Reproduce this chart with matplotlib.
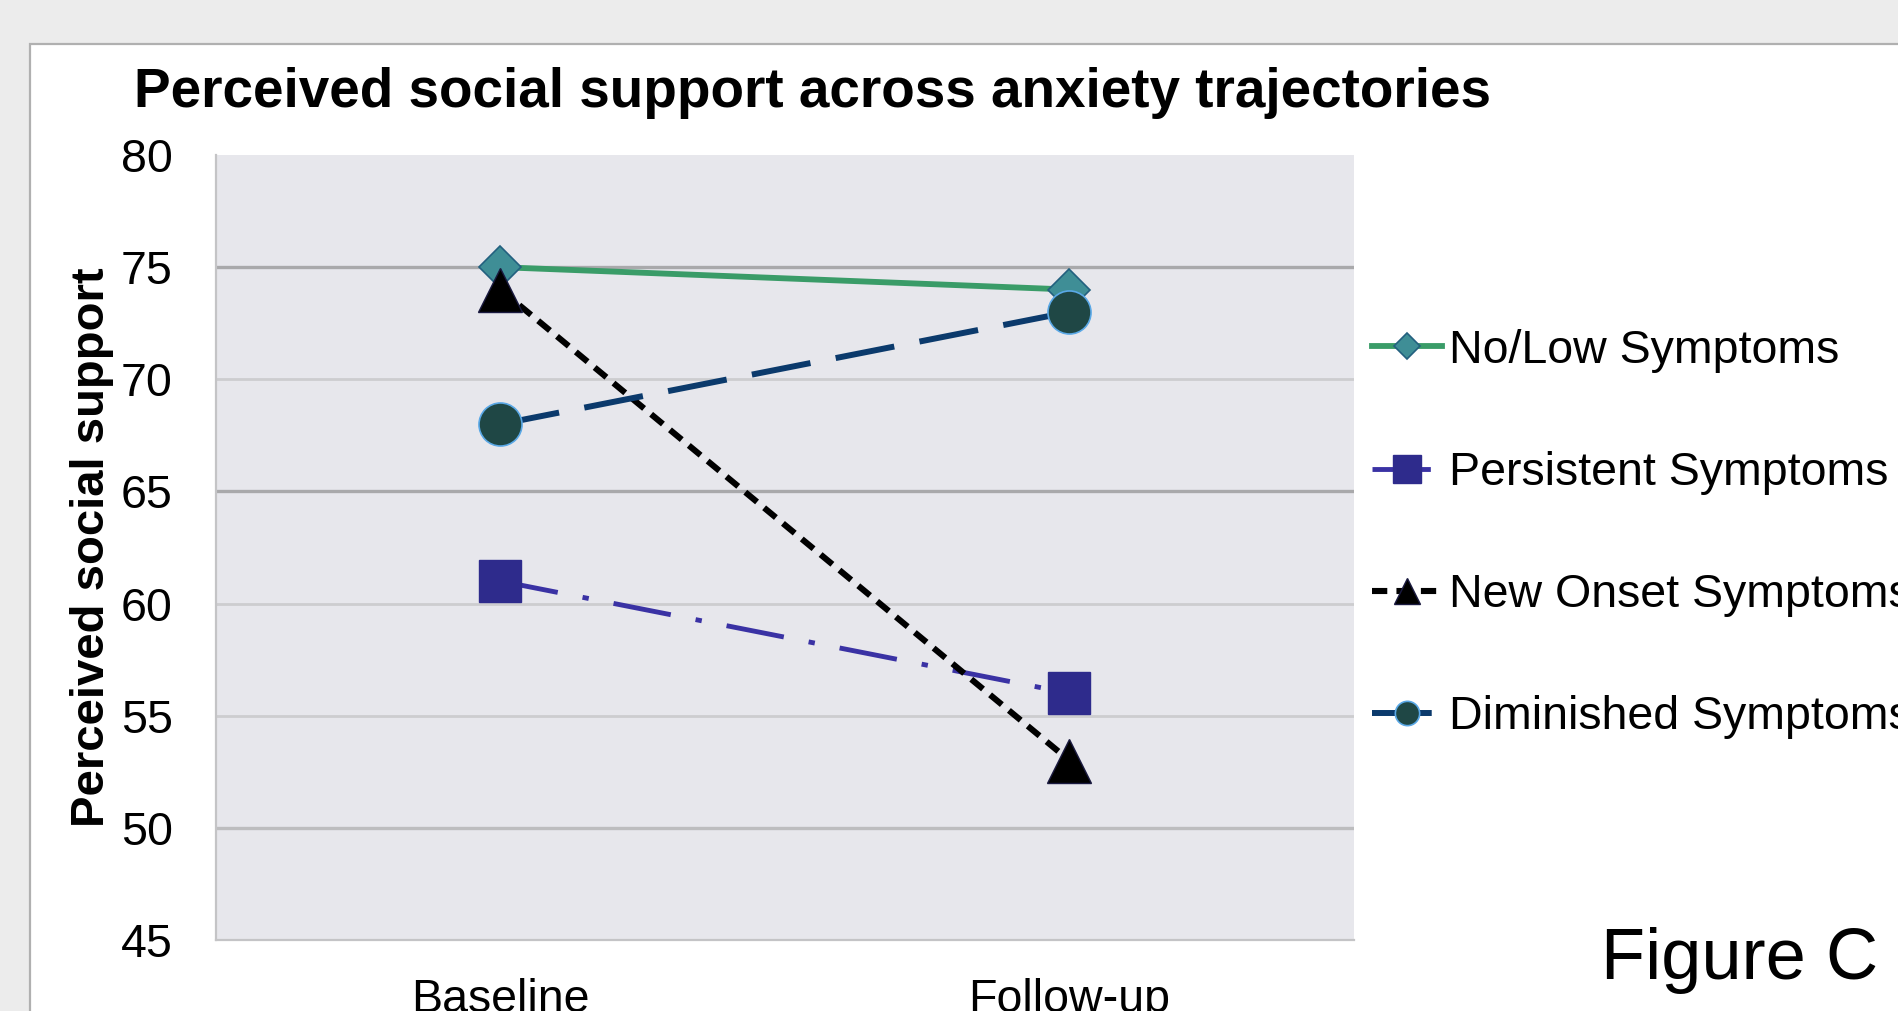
import numpy as np
import matplotlib.pyplot as plt
from matplotlib.lines import Line2D
from matplotlib.patches import Rectangle

# --- data ---
time_points = ['Baseline', 'Follow-up']
groups = ['No/Low Symptoms', 'Persistent Symptoms', 'New Onset Symptoms', 'Diminished Symptoms']
no_low = [75, 74]
persistent = [61, 56]
new_onset = [74, 53]
diminished = [68, 73]
y_ticks = [45, 50, 55, 60, 65, 70, 75, 80]

plt.rcParams['font.family'] = ['Liberation Sans', 'DejaVu Sans']

W, H = 1899, 1011
fig = plt.figure(figsize=(W / 100, H / 100), dpi=100, facecolor='#ececec')

# white sheet behind the chart
fig.patches.append(Rectangle((30 / W, -0.05), 1.2, 1.05 - 44 / H, transform=fig.transFigure,
                             facecolor='white', edgecolor='#b0b0b0', linewidth=1.6, zorder=-10))

ax = fig.add_axes([216 / W, 71 / H, 1138 / W, 785 / H], facecolor='#e7e7ec')

x = np.arange(len(time_points))

# series styles: (values, line colour, linestyle, lw, marker, ms, face, edge, edge width)
styles = [
    (no_low, '#3a9c68', '-', 4.2, 'D', 21, '#3f8e96', '#23607f', 1.2),
    (persistent, '#3a32a4', (0, (12, 5.2, 1.3, 5.2)), 3.5, 's', 30, '#2e2b8c', '#2e2b8c', 1.0),
    (new_onset, '#000000', (0, (2.5, 1.5)), 4.4, '^', 31, '#000000', '#1a1a40', 1.0),
    (diminished, '#0b3a6c', (0, (10, 4.3)), 4.3, 'o', 31, '#1f4745', '#5aa8e6', 1.2),
]

handles = []
legend_ms = [13, 20, 19, 17.5]
for (vals, col, ls, lw, mk, ms, fc, ec, mew), name, lms in zip(styles, groups, legend_ms):
    ax.plot(x, vals, color=col, linestyle=ls, linewidth=lw, marker=mk, markersize=ms,
            markerfacecolor=fc, markeredgecolor=ec, markeredgewidth=mew, zorder=3)
    handles.append(Line2D([], [], color=col, linestyle=ls, linewidth=lw, marker=mk, markersize=lms,
                          markerfacecolor=fc, markeredgecolor=ec, markeredgewidth=mew))

ax.set_xlim(-0.5, 1.5)
ax.set_ylim(45, 80)
ax.set_xticks(x)
ax.set_xticklabels(time_points)
ax.set_yticks(y_ticks)
ax.tick_params(axis='both', length=0, labelsize=33.5)
ax.tick_params(axis='y', pad=31)
ax.tick_params(axis='x', pad=27)

# horizontal gridlines; none drawn along the top edge
ax.yaxis.grid(True, color='#cdcdcf', linewidth=2.0)
ax.set_axisbelow(True)
grid_shade = {75: '#a9a9ab', 65: '#a9a9ab', 50: '#bdbdbf'}
for val, gl in zip(y_ticks, ax.get_ygridlines()):
    if val == 80:
        gl.set_visible(False)
    elif val in grid_shade:
        gl.set_color(grid_shade[val])
        gl.set_linewidth(2.4)

for side in ['top', 'right']:
    ax.spines[side].set_visible(False)
for side in ['left', 'bottom']:
    ax.spines[side].set_color('#c4c4c6')
    ax.spines[side].set_linewidth(1.6)

ax.set_ylabel('Perceived social support', fontsize=34, fontweight='bold', va='center')
ax.yaxis.set_label_coords((92 - 216) / 1138, 0.5)

fig.text(134 / W, 1 - 107 / H, 'Perceived social support across anxiety trajectories',
         fontsize=39.5, fontweight='bold', va='baseline', ha='left')

fig.legend(handles=handles, labels=groups, loc='center left',
           bbox_to_anchor=(1372 / W, 1 - 534 / H), bbox_transform=fig.transFigure,
           frameon=False, fontsize=33.5, handlelength=1.5, handletextpad=0.15,
           labelspacing=1.68, borderpad=0, borderaxespad=0)

fig.text(1601 / W, 1 - 979 / H, 'Figure C', fontsize=52, va='baseline', ha='left')

plt.savefig('out.png', dpi=100, facecolor=fig.get_facecolor())
